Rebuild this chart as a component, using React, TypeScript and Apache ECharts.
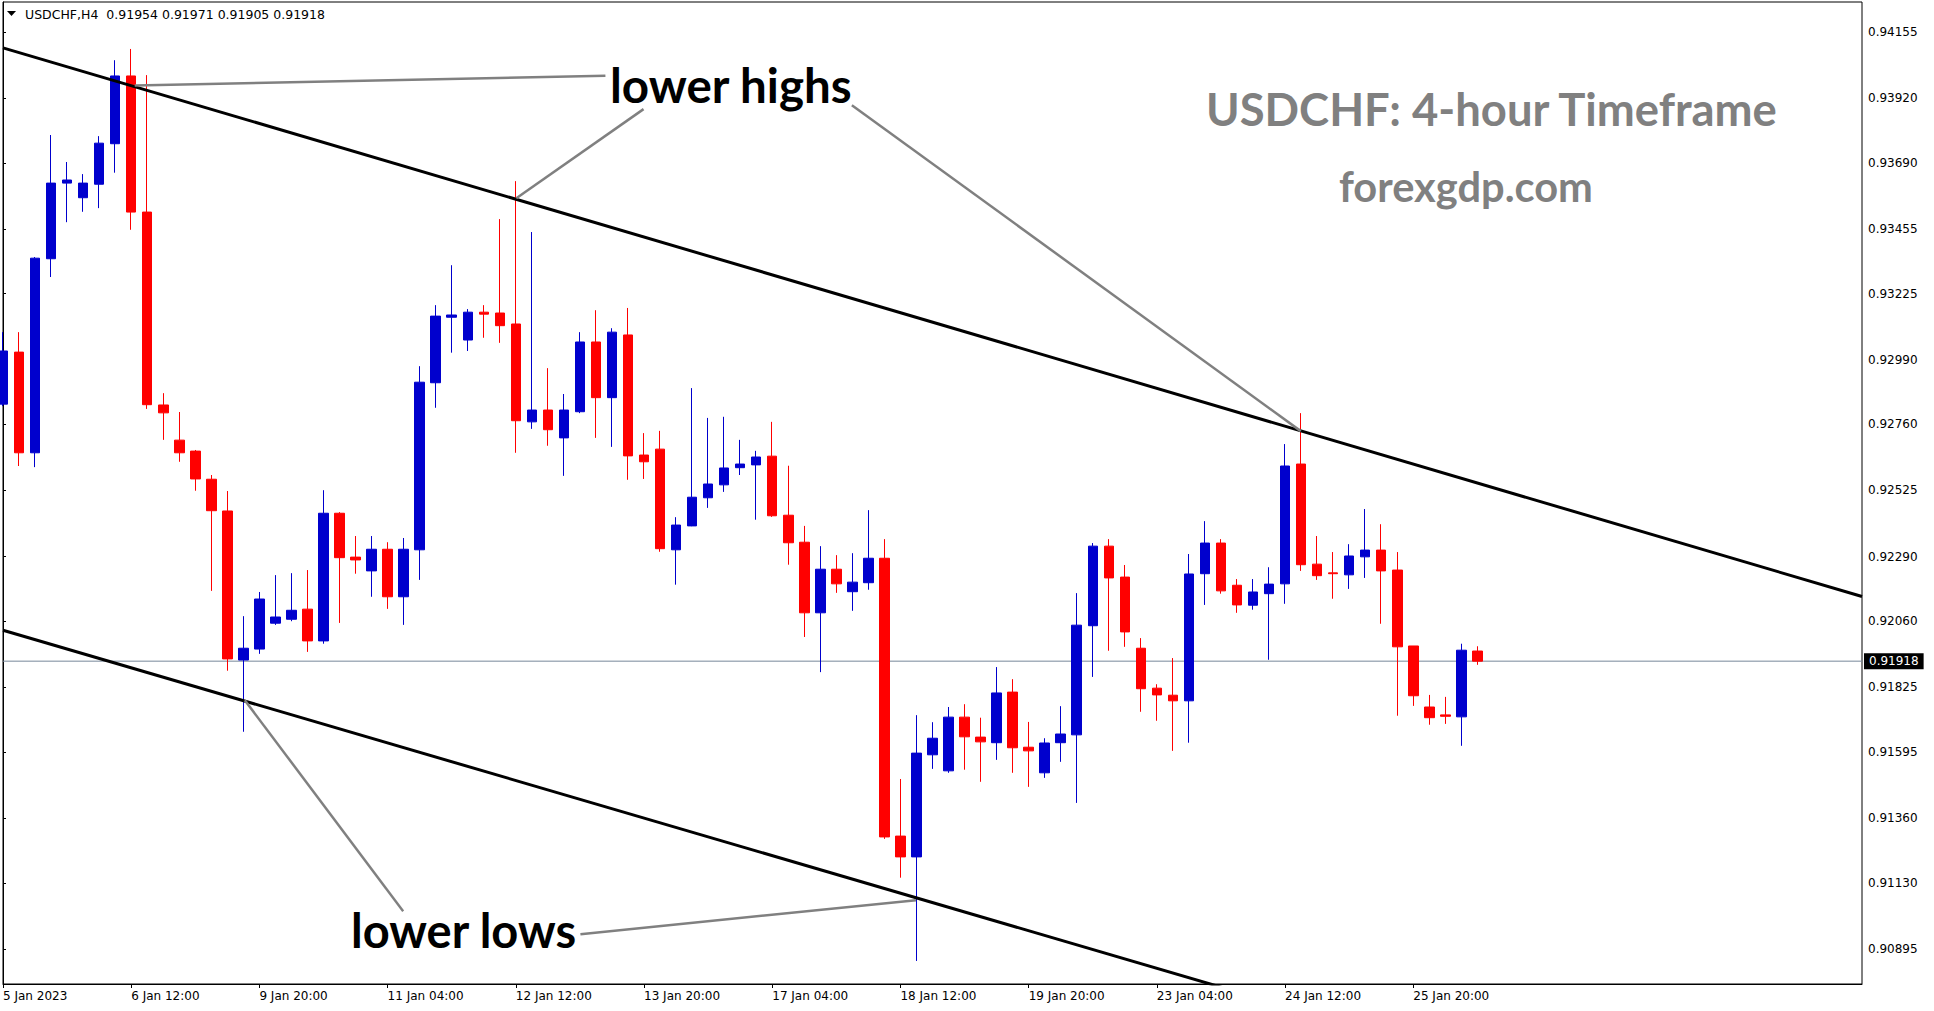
import React, { useEffect, useRef } from "react";
import * as echarts from "echarts";

const headerText = "USDCHF,H4  0.91954 0.91971 0.91905 0.91918";
const titleText = "USDCHF: 4-hour Timeframe";
const siteText = "forexgdp.com";

const xTickLabels = [
  "5 Jan 2023", "6 Jan 12:00", "9 Jan 20:00", "11 Jan 04:00", "12 Jan 12:00", "13 Jan 20:00",
  "17 Jan 04:00", "18 Jan 12:00", "19 Jan 20:00", "23 Jan 04:00", "24 Jan 12:00", "25 Jan 20:00",
];
const labelEvery = 8;
const slotCount = 117;

const yTickValues = [
  0.94155, 0.9392, 0.9369, 0.93455, 0.93225, 0.9299, 0.9276, 0.92525,
  0.9229, 0.9206, 0.91825, 0.91595, 0.9136, 0.9113, 0.90895,
];
const yMin = 0.9077;
const yMax = 0.94262;

// [open, close, low, high]
const candles = [
  [0.92832, 0.93021, 0.92825, 0.93088],
  [0.93017, 0.92659, 0.92612, 0.93088],
  [0.92659, 0.93351, 0.92608, 0.93355],
  [0.93349, 0.93618, 0.93284, 0.93789],
  [0.93618, 0.93629, 0.93479, 0.93693],
  [0.93566, 0.93618, 0.93516, 0.9365],
  [0.93614, 0.9376, 0.93529, 0.93785],
  [0.93758, 0.93999, 0.93655, 0.94055],
  [0.93999, 0.93515, 0.93452, 0.94095],
  [0.93515, 0.9283, 0.92815, 0.94002],
  [0.92829, 0.92801, 0.92705, 0.92871],
  [0.92704, 0.92659, 0.92627, 0.92804],
  [0.92665, 0.92566, 0.92524, 0.92669],
  [0.92565, 0.92453, 0.92168, 0.9258],
  [0.92452, 0.91926, 0.91884, 0.92523],
  [0.91922, 0.91964, 0.91667, 0.92078],
  [0.91961, 0.92139, 0.91944, 0.92164],
  [0.92053, 0.92075, 0.92047, 0.92224],
  [0.92067, 0.92099, 0.9206, 0.92231],
  [0.92103, 0.9199, 0.91951, 0.92242],
  [0.9199, 0.92444, 0.9198, 0.92526],
  [0.92444, 0.92286, 0.92054, 0.92448],
  [0.92288, 0.92278, 0.92229, 0.92363],
  [0.92239, 0.92316, 0.92147, 0.92363],
  [0.92316, 0.92147, 0.92104, 0.92341],
  [0.92147, 0.92316, 0.92047, 0.92356],
  [0.92314, 0.9291, 0.92207, 0.92967],
  [0.92908, 0.93145, 0.92819, 0.93184],
  [0.93141, 0.93149, 0.93015, 0.93326],
  [0.9306, 0.93159, 0.93021, 0.9317],
  [0.93159, 0.93152, 0.93068, 0.93184],
  [0.93156, 0.93111, 0.9305, 0.9349],
  [0.93117, 0.92773, 0.92659, 0.93625],
  [0.92769, 0.92811, 0.92744, 0.93444],
  [0.92811, 0.92741, 0.92684, 0.9296],
  [0.92712, 0.92811, 0.92577, 0.92868],
  [0.92805, 0.93053, 0.928, 0.93088],
  [0.93053, 0.92855, 0.92712, 0.93166],
  [0.92855, 0.93088, 0.9268, 0.93102],
  [0.93078, 0.92648, 0.92563, 0.93174],
  [0.92651, 0.92627, 0.92566, 0.92729],
  [0.92672, 0.92318, 0.92307, 0.92737],
  [0.92314, 0.92402, 0.9219, 0.9243],
  [0.92399, 0.92501, 0.92398, 0.92889],
  [0.92499, 0.92548, 0.92463, 0.92783],
  [0.92545, 0.92605, 0.9252, 0.92787],
  [0.92606, 0.92619, 0.9258, 0.92705],
  [0.92616, 0.92644, 0.92421, 0.92666],
  [0.92647, 0.92435, 0.92431, 0.92769],
  [0.92437, 0.92339, 0.92261, 0.92613],
  [0.92341, 0.9209, 0.92004, 0.92399],
  [0.9209, 0.92245, 0.91879, 0.92327],
  [0.92245, 0.92193, 0.92161, 0.92295],
  [0.92165, 0.92199, 0.92097, 0.92302],
  [0.92197, 0.92284, 0.92172, 0.92455],
  [0.92284, 0.91293, 0.91286, 0.92352],
  [0.91296, 0.91222, 0.91148, 0.91499],
  [0.91222, 0.91591, 0.90852, 0.91726],
  [0.91585, 0.91644, 0.91535, 0.91701],
  [0.91528, 0.91719, 0.91521, 0.91755],
  [0.91719, 0.91649, 0.91532, 0.91765],
  [0.91648, 0.91631, 0.91489, 0.91717],
  [0.91628, 0.91805, 0.91567, 0.91897],
  [0.91808, 0.9161, 0.91521, 0.91854],
  [0.91612, 0.91599, 0.91471, 0.91702],
  [0.91521, 0.91627, 0.91503, 0.91644],
  [0.91628, 0.91659, 0.9156, 0.91758],
  [0.91656, 0.92046, 0.91414, 0.9216],
  [0.92044, 0.92327, 0.91862, 0.92338],
  [0.92327, 0.92214, 0.91955, 0.92352],
  [0.92217, 0.92022, 0.91969, 0.9226],
  [0.91964, 0.9182, 0.91738, 0.92],
  [0.91822, 0.91798, 0.91706, 0.91836],
  [0.91797, 0.91777, 0.91599, 0.91929],
  [0.91777, 0.92228, 0.91628, 0.92299],
  [0.92229, 0.92338, 0.92118, 0.92416],
  [0.92338, 0.92168, 0.92158, 0.92352],
  [0.92188, 0.92118, 0.9209, 0.9221],
  [0.92117, 0.92164, 0.92101, 0.9221],
  [0.92158, 0.92192, 0.91923, 0.92252],
  [0.92193, 0.92612, 0.92122, 0.9269],
  [0.92619, 0.92261, 0.92239, 0.928],
  [0.92263, 0.92222, 0.92207, 0.92363],
  [0.92232, 0.92229, 0.9214, 0.92306],
  [0.92225, 0.92292, 0.92175, 0.92334],
  [0.92289, 0.92313, 0.92214, 0.92459],
  [0.92313, 0.92239, 0.92051, 0.92405],
  [0.92242, 0.91969, 0.91724, 0.92306],
  [0.91972, 0.91795, 0.91759, 0.91972],
  [0.91755, 0.91717, 0.91692, 0.91798],
  [0.91727, 0.91722, 0.91695, 0.91791],
  [0.9172, 0.91957, 0.91617, 0.9198],
  [0.91954, 0.91918, 0.91905, 0.91971],
];

const lastPrice = 0.91918;

// trend lines: [bar index, price]
const upperTrend = [[0, 0.94099], [116, 0.92148]];
const lowerTrend = [[0, 0.92028], [116, 0.90091]];

// pointer lines from the annotations to the touches
const pointerHighsLeft = [[8.22, 0.93965], [37.59, 0.94]];
const pointerHighsMid = [[39.97, 0.93881], [32.03, 0.93564]];
const pointerHighsRight = [[52.97, 0.93895], [80.98, 0.92736]];
const pointerLowsLeft = [[24.97, 0.91029], [15.09, 0.91779]];
const pointerLowsRight = [[36.03, 0.90947], [56.97, 0.91068]];

const UP = "#0000CD";
const DOWN = "#FF0000";
const AXIS_FONT = "DejaVu Sans";
const BIG_FONT = "Lato";

export default function App() {
  const ref = useRef<HTMLDivElement>(null);

  useEffect(() => {
    if (!ref.current) return;
    const chart = echarts.init(ref.current, null, { renderer: "svg" });
    const categories = Array.from({ length: slotCount }, (_, i) => String(i));
    const showTick = (index: number) =>
      index % labelEvery === 0 && index / labelEvery < xTickLabels.length;

    const lineSeries = (data: number[][], color: string, width: number, extra: any = {}) => ({
      type: "line",
      xAxisIndex: 1,
      yAxisIndex: 0,
      data,
      symbol: "none",
      silent: true,
      clip: true,
      animation: false,
      lineStyle: { color, width },
      z: 3,
      ...extra,
    });

    chart.setOption({
      animation: false,
      backgroundColor: "#ffffff",
      grid: {
        left: 3,
        top: 2,
        right: 72,
        bottom: 27,
        show: true,
        borderColor: "#000",
        borderWidth: 1,
        containLabel: false,
        outerBoundsMode: "none",
      },
      xAxis: [
        {
          type: "category",
          data: categories,
          boundaryGap: false,
          axisLine: { show: true, lineStyle: { color: "#000", width: 1 } },
          axisTick: {
            show: true,
            interval: (index: number) => showTick(index),
            length: 4,
            lineStyle: { color: "#000" },
          },
          axisLabel: {
            show: true,
            interval: (index: number) => showTick(index),
            formatter: (_v: string, index: number) => xTickLabels[index / labelEvery] ?? "",
            align: "left",
            margin: 6,
            color: "#000",
            fontSize: 12,
            fontFamily: AXIS_FONT,
          },
          splitLine: { show: false },
        },
        {
          type: "value",
          min: 0,
          max: slotCount - 1,
          show: false,
          splitLine: { show: false },
        },
      ],
      yAxis: {
        type: "value",
        position: "right",
        min: yMin,
        max: yMax,
        axisLine: { show: true, lineStyle: { color: "#000", width: 1 } },
        axisTick: {
          show: true,
          length: 3,
          customValues: yTickValues,
          lineStyle: { color: "#000" },
        },
        axisLabel: {
          show: true,
          customValues: yTickValues,
          formatter: (v: number) => v.toFixed(5),
          margin: 6,
          color: "#000",
          fontSize: 12,
          fontFamily: AXIS_FONT,
        },
        splitLine: { show: false },
      },
      series: [
        lineSeries([[0, lastPrice], [slotCount - 1, lastPrice]], "#778899", 1, {
          z: 1,
          endLabel: {
            show: true,
            formatter: lastPrice.toFixed(5),
            color: "#fff",
            backgroundColor: "#000",
            padding: [2, 5, 2, 5],
            distance: 2,
            fontSize: 12,
            fontFamily: AXIS_FONT,
          },
        }),
        {
          type: "candlestick",
          xAxisIndex: 0,
          yAxisIndex: 0,
          data: candles,
          barWidth: 10,
          clip: true,
          silent: true,
          itemStyle: {
            color: UP,
            color0: DOWN,
            borderColor: UP,
            borderColor0: DOWN,
            borderWidth: 1,
          },
          z: 2,
        },
        lineSeries(upperTrend, "#000", 3),
        lineSeries(lowerTrend, "#000", 3),
        lineSeries(pointerHighsLeft, "#808080", 2.5),
        lineSeries(pointerHighsMid, "#808080", 2.5),
        lineSeries(pointerHighsRight, "#808080", 2.5),
        lineSeries(pointerLowsLeft, "#808080", 2.5),
        lineSeries(pointerLowsRight, "#808080", 2.5),
      ],
      graphic: [
        {
          type: "polygon",
          shape: { points: [[7, 11], [16, 11], [11.5, 16]] },
          style: { fill: "#000" },
          z: 10,
        },
        {
          type: "text",
          x: 25,
          y: 14,
          style: {
            text: headerText,
            fill: "#000",
            fontSize: 12.5,
            fontFamily: AXIS_FONT,
            align: "left",
            verticalAlign: "middle",
          },
          z: 10,
        },
        {
          type: "text",
          x: 610,
          y: 84,
          style: {
            text: "lower highs",
            fill: "#000",
            fontSize: 47.5,
            fontWeight: "bold",
            fontFamily: BIG_FONT,
            align: "left",
            verticalAlign: "middle",
          },
          z: 10,
        },
        {
          type: "text",
          x: 351,
          y: 930,
          style: {
            text: "lower lows",
            fill: "#000",
            fontSize: 47,
            fontWeight: "bold",
            fontFamily: BIG_FONT,
            align: "left",
            verticalAlign: "middle",
          },
          z: 10,
        },
        {
          type: "text",
          x: 1206,
          y: 108,
          style: {
            text: titleText,
            fill: "#808080",
            fontSize: 45.4,
            fontWeight: "bold",
            fontFamily: BIG_FONT,
            align: "left",
            verticalAlign: "middle",
          },
          z: 10,
        },
        {
          type: "text",
          x: 1339,
          y: 186,
          style: {
            text: siteText,
            fill: "#808080",
            fontSize: 41.6,
            fontWeight: "bold",
            fontFamily: BIG_FONT,
            align: "left",
            verticalAlign: "middle",
          },
          z: 10,
        },
      ],
    });

    return () => chart.dispose();
  }, []);

  return (
    <div
      ref={ref}
      style={{ position: "fixed", left: 0, top: 0, width: 1934, height: 1011, background: "#fff" }}
    />
  );
}
